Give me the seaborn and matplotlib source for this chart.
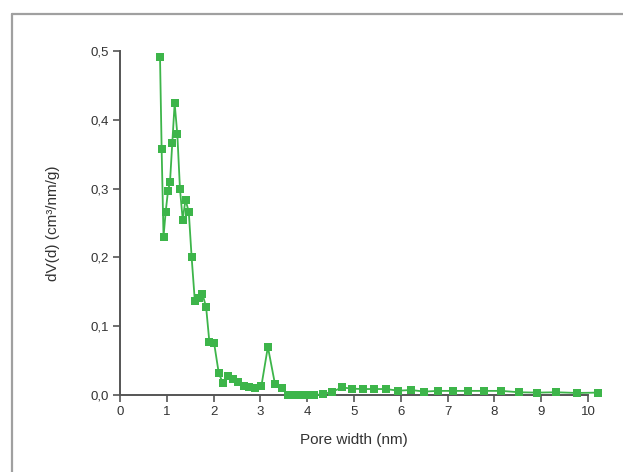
import pandas as pd
import matplotlib.pyplot as plt
import seaborn as sns
from matplotlib.lines import Line2D

# -------------------------
# Data
# -------------------------
pore_width = [0.855, 0.89, 0.93, 0.976, 1.026, 1.068, 1.118, 1.168, 1.225, 1.282,
              1.34, 1.40, 1.47, 1.53, 1.60, 1.69, 1.76, 1.84, 1.91, 2.01,
              2.11, 2.20, 2.30, 2.41, 2.53, 2.65, 2.76, 2.89, 3.02, 3.16,
              3.31, 3.46, 3.60, 3.70, 3.80, 3.90, 4.00, 4.15, 4.33, 4.54,
              4.75, 4.96, 5.19, 5.43, 5.68, 5.95, 6.22, 6.50, 6.79, 7.11,
              7.44, 7.78, 8.15, 8.53, 8.91, 9.32, 9.76, 10.21]
dvd = [0.492, 0.357, 0.230, 0.266, 0.297, 0.309, 0.367, 0.424, 0.379, 0.299,
       0.255, 0.284, 0.266, 0.201, 0.136, 0.141, 0.147, 0.128, 0.077, 0.076,
       0.032, 0.017, 0.027, 0.023, 0.019, 0.0135, 0.012, 0.0106, 0.0126, 0.070,
       0.0165, 0.0097, 0.0, 0.0, 0.0, 0.0, 0.0, 0.0, 0.001, 0.005,
       0.011, 0.0092, 0.0087, 0.0087, 0.0087, 0.0063, 0.0073, 0.005, 0.006, 0.006,
       0.006, 0.006, 0.006, 0.004, 0.0035, 0.004, 0.003, 0.0035]

x_ticks = [0, 1, 2, 3, 4, 5, 6, 7, 8, 9, 10]
y_ticks = [0.0, 0.1, 0.2, 0.3, 0.4, 0.5]
y_tick_labels = ["0,0", "0,1", "0,2", "0,3", "0,4", "0,5"]

df = pd.DataFrame({"pore_width": pore_width, "dvd": dvd})

# -------------------------
# Style
# -------------------------
sns.set_style("ticks")
plt.rcParams["font.family"] = ["Liberation Sans", "DejaVu Sans"]

green = "#3db54a"
axis_grey = "#555555"
text_col = "#333333"

fig = plt.figure(figsize=(6.23, 4.72), dpi=100)
ax = fig.add_axes([0.1926, 0.1631, 0.7512, 0.7288])

sns.lineplot(data=df, x="pore_width", y="dvd", ax=ax, color=green,
             marker="s", markersize=5.6, markeredgewidth=0, linewidth=1.3,
             estimator=None, sort=False, clip_on=False, zorder=3)

ax.set_xlim(0, 10)
ax.set_ylim(0, 0.5)
ax.set_xticks(x_ticks)
ax.set_xticklabels([str(t) for t in x_ticks])
ax.set_yticks(y_ticks)
ax.set_yticklabels(y_tick_labels)

for side in ["top", "right"]:
    ax.spines[side].set_visible(False)
for side in ["left", "bottom"]:
    ax.spines[side].set_color(axis_grey)
    ax.spines[side].set_linewidth(1.4)

ax.tick_params(axis="both", direction="out", length=5, width=1.2,
               color=axis_grey, labelcolor=text_col, labelsize=9.5, pad=3)

ax.set_xlabel("Pore width (nm)", fontsize=11, color=text_col, labelpad=11)
ax.set_ylabel("dV(d) (cm³/nm/g)", fontsize=11, color=text_col, labelpad=22)

# -------------------------
# Grey frame (top and left only)
# -------------------------
fx = 12 / 623
fy = 1 - 14 / 472
fig.add_artist(Line2D([fx, 1.0], [fy, fy], color="#a0a0a0", linewidth=1.6,
                      transform=fig.transFigure))
fig.add_artist(Line2D([fx, fx], [0.0, fy], color="#a0a0a0", linewidth=1.6,
                      transform=fig.transFigure))

fig.savefig("out.png", dpi=100)
